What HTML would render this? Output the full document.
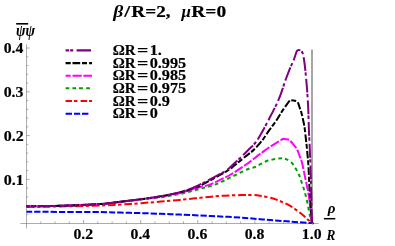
<!DOCTYPE html>
<html><head><meta charset="utf-8"><title>plot</title>
<style>
html,body{margin:0;padding:0;background:#fff;}
body{width:395px;height:246px;overflow:hidden;font-family:"Liberation Serif",serif;}
svg{display:block;will-change:transform;}
text{font-family:"Liberation Serif",serif;font-weight:bold;fill:#000;white-space:pre;stroke:#000;stroke-width:0.2px;}
.lg{font-size:14.5px;}
.tk{font-size:15px;}
.ti{font-size:16px;}
.it{font-style:italic;}
.yl{font-size:18px;font-style:italic;}
.xl{font-size:14px;font-style:italic;}
</style></head><body>
<svg width="395" height="246" viewBox="0 0 395 246">
<g stroke="#666" stroke-width="0.55" fill="none">
<path d="M20.3 223.5 H318.6"/>
<path d="M26.5 228.4 V44.3"/>
<path d="M40.73 223.5 v-2.0"/>
<path d="M55.00 223.5 v-2.0"/>
<path d="M69.28 223.5 v-2.0"/>
<path d="M83.56 223.5 v-3.5"/>
<path d="M97.84 223.5 v-2.0"/>
<path d="M112.12 223.5 v-2.0"/>
<path d="M126.39 223.5 v-2.0"/>
<path d="M140.67 223.5 v-3.5"/>
<path d="M154.95 223.5 v-2.0"/>
<path d="M169.22 223.5 v-2.0"/>
<path d="M183.50 223.5 v-2.0"/>
<path d="M197.78 223.5 v-3.5"/>
<path d="M212.06 223.5 v-2.0"/>
<path d="M226.34 223.5 v-2.0"/>
<path d="M240.61 223.5 v-2.0"/>
<path d="M254.89 223.5 v-3.5"/>
<path d="M269.17 223.5 v-2.0"/>
<path d="M283.44 223.5 v-2.0"/>
<path d="M297.72 223.5 v-2.0"/>
<path d="M312.00 223.5 v-3.5"/>
<path d="M26.5 214.44 h1.7"/>
<path d="M26.5 205.68 h1.7"/>
<path d="M26.5 196.92 h1.7"/>
<path d="M26.5 188.16 h1.7"/>
<path d="M26.5 179.40 h3.2"/>
<path d="M26.5 170.64 h1.7"/>
<path d="M26.5 161.88 h1.7"/>
<path d="M26.5 153.12 h1.7"/>
<path d="M26.5 144.36 h1.7"/>
<path d="M26.5 135.60 h3.2"/>
<path d="M26.5 126.84 h1.7"/>
<path d="M26.5 118.08 h1.7"/>
<path d="M26.5 109.32 h1.7"/>
<path d="M26.5 100.56 h1.7"/>
<path d="M26.5 91.80 h3.2"/>
<path d="M26.5 83.04 h1.7"/>
<path d="M26.5 74.28 h1.7"/>
<path d="M26.5 65.52 h1.7"/>
<path d="M26.5 56.76 h1.7"/>
<path d="M26.5 48.00 h3.2"/>
</g>
<path d="M312.0 49.5 V223.2" stroke="#808080" stroke-width="1.4" fill="none"/>
<path d="M26.5 211.7 C37.7 211.8 47.8 211.8 60.0 211.9 C72.2 212.0 90.0 212.0 100.0 212.1 C110.0 212.2 113.5 212.4 120.3 212.6 C127.1 212.8 133.8 212.9 140.6 213.1 C147.3 213.3 154.2 213.6 160.8 213.8 C167.4 214.0 173.4 214.3 180.0 214.6 C186.6 214.8 193.5 215.2 200.3 215.5 C207.1 215.8 213.8 216.2 220.6 216.5 C227.3 216.8 235.9 217.3 240.8 217.6 C245.7 217.9 246.8 218.0 250.0 218.3 C253.2 218.6 256.6 218.9 260.0 219.2 C263.4 219.5 265.2 219.6 270.3 220.0 C275.4 220.4 283.8 221.1 290.6 221.6 C297.4 222.1 307.6 222.8 311.2 223.1 C314.8 223.4 311.7 223.2 311.9 223.2" stroke="#0000ff" stroke-width="2.0" stroke-dasharray="6.35 1.97" stroke-dashoffset="0.7" fill="none" stroke-linejoin="round"/>
<path d="M26.5 206.9 C37.7 206.8 47.8 206.7 60.0 206.5 C72.2 206.3 90.0 205.8 100.0 205.5 C110.0 205.2 113.5 205.0 120.3 204.6 C127.1 204.2 133.8 203.7 140.6 203.2 C147.3 202.7 154.2 202.1 160.8 201.6 C167.4 201.1 173.4 200.5 180.0 199.9 C186.6 199.3 193.5 198.5 200.3 197.8 C207.1 197.1 213.8 196.4 220.6 195.9 C227.3 195.4 235.4 195.2 240.8 195.1 C246.2 194.9 249.8 194.9 253.0 195.0 C256.2 195.1 257.2 195.2 260.1 195.7 C263.0 196.2 266.9 196.9 270.3 197.8 C273.7 198.7 277.0 199.8 280.4 201.2 C283.8 202.6 287.2 204.2 290.6 206.2 C294.0 208.2 297.8 211.1 300.7 213.3 C303.6 215.5 305.9 217.8 307.8 219.5 C309.7 221.2 310.5 222.0 311.9 223.2" stroke="#ff0000" stroke-width="2.0" stroke-dasharray="7.8 2.4 3.3 2.8" stroke-dashoffset="0" fill="none" stroke-linejoin="round"/>
<path d="M26.5 206.3 C37.9 206.2 48.4 206.1 60.6 205.8 C72.8 205.4 90.0 204.7 100.0 204.1 C110.0 203.4 113.5 202.6 120.3 201.8 C127.1 201.1 133.8 200.1 140.6 199.3 C147.3 198.5 154.2 198.1 160.8 197.2 C167.4 196.3 173.4 195.4 180.0 194.0 C186.6 192.6 195.2 190.0 200.3 188.7 C205.4 187.4 207.0 187.2 210.4 186.1 C213.8 185.0 217.2 183.8 220.6 182.3 C224.0 180.8 226.3 179.4 230.7 177.3 C235.1 175.2 243.3 171.1 246.9 169.5 C250.5 167.9 250.6 168.2 252.0 167.8 C253.4 167.4 253.8 167.6 255.2 167.0 C256.6 166.4 258.3 165.3 260.1 164.4 C261.9 163.5 264.2 162.1 266.2 161.3 C268.2 160.5 270.2 160.1 272.3 159.6 C274.4 159.1 277.2 158.7 279.0 158.5 C280.8 158.3 281.8 158.3 283.0 158.4 C284.2 158.5 284.6 158.5 286.0 159.1 C287.4 159.7 289.6 160.7 291.2 162.2 C292.8 163.7 294.2 166.2 295.5 168.3 C296.8 170.4 298.2 173.1 299.1 175.0 C300.0 176.9 299.9 177.0 300.7 179.5 C301.5 182.0 303.1 186.3 304.2 190.1 C305.3 193.9 306.4 198.2 307.3 202.3 C308.2 206.4 308.9 211.0 309.7 214.5 C310.5 218.0 311.2 220.3 311.9 223.2" stroke="#00a000" stroke-width="2.0" stroke-dasharray="3.7 3.2" stroke-dashoffset="3.0" fill="none" stroke-linejoin="round"/>
<path d="M26.5 206.3 C37.9 206.2 48.4 206.1 60.6 205.8 C72.8 205.4 90.0 204.7 100.0 204.1 C110.0 203.4 113.5 202.6 120.3 201.8 C127.1 201.1 133.8 200.2 140.6 199.3 C147.3 198.4 154.2 197.6 160.8 196.5 C167.4 195.4 173.4 194.6 180.0 193.0 C186.6 191.4 195.2 188.4 200.3 187.0 C205.4 185.6 205.3 186.5 210.4 184.4 C215.5 182.3 224.6 177.9 230.7 174.5 C236.8 171.1 243.7 166.1 246.9 164.0 C250.1 161.9 247.8 163.5 250.0 161.8 C252.2 160.1 258.0 155.5 260.1 153.9 C262.2 152.3 260.9 153.3 262.6 152.1 C264.3 150.9 267.5 148.5 270.3 146.7 C273.1 144.8 277.2 142.3 279.4 141.0 C281.6 139.7 282.0 139.5 283.3 138.7 C284.9 139.0 286.6 139.3 288.2 139.6 C289.0 140.1 289.3 139.7 290.7 141.2 C292.1 142.7 294.8 146.1 296.8 148.5 C297.8 151.1 298.9 153.9 299.8 156.4 C300.7 158.9 301.3 159.9 302.2 163.5 C303.1 167.1 304.2 172.9 305.2 177.7 C306.2 182.5 307.4 187.8 308.2 192.2 C309.0 196.6 309.3 199.9 309.9 204.3 C310.4 208.7 311.2 215.3 311.5 218.5 C311.8 221.7 311.8 221.6 311.9 223.2" stroke="#ff00ff" stroke-width="2.0" stroke-dasharray="9.3 1.8" stroke-dashoffset="8.7" fill="none" stroke-linejoin="round"/>
<path d="M26.5 206.3 C37.9 206.2 48.4 206.1 60.6 205.8 C72.8 205.4 90.0 204.7 100.0 204.1 C110.0 203.4 113.5 202.6 120.3 201.8 C127.1 201.1 133.8 200.2 140.6 199.3 C147.3 198.4 154.2 197.5 160.8 196.3 C167.4 195.2 175.1 193.6 180.0 192.4 C184.9 191.2 186.7 190.5 190.1 189.4 C193.5 188.3 195.9 187.7 200.3 185.6 C204.7 183.5 212.2 179.2 216.5 176.9 C220.8 174.6 223.6 173.0 226.0 171.6 C228.4 170.2 229.2 169.7 230.7 168.6 C232.2 167.5 232.3 167.1 235.0 164.9 C237.7 162.7 243.7 158.0 246.9 155.4 C250.1 152.8 251.6 152.0 254.1 149.5 C256.6 147.0 259.7 143.6 262.2 140.4 C264.7 137.2 266.9 133.6 269.3 130.2 C271.7 126.8 274.5 123.3 276.7 120.0 C278.9 116.7 280.3 113.9 282.5 110.6 C284.7 107.3 287.6 103.5 290.1 100.0 C292.3 100.3 294.6 100.7 296.8 101.0 C297.3 101.8 297.9 102.5 298.3 103.5 C298.8 104.5 298.9 105.4 299.5 107.1 C300.1 108.8 301.0 111.2 301.6 113.4 C302.2 115.6 302.7 118.1 303.1 120.0 C303.5 121.9 303.8 122.9 304.1 124.6 C304.4 126.3 304.5 126.4 304.9 130.0 C305.3 133.6 306.1 140.8 306.7 146.2 C307.2 151.6 307.8 156.9 308.2 162.5 C308.6 168.1 308.8 173.8 309.1 180.0 C309.4 186.2 309.7 192.8 310.2 200.0 C310.7 207.2 311.3 215.5 311.9 223.2" stroke="#000000" stroke-width="2.0" stroke-dasharray="7.7 1.8 5.0 2.1" stroke-dashoffset="4.9" fill="none" stroke-linejoin="round"/>
<path d="M26.5 206.3 C37.9 206.2 48.4 206.1 60.6 205.8 C72.8 205.4 90.0 204.7 100.0 204.1 C110.0 203.4 113.5 202.6 120.3 201.8 C127.1 201.1 133.8 200.2 140.6 199.3 C147.3 198.4 154.2 197.4 160.8 196.2 C167.4 195.0 175.1 193.3 180.0 192.1 C184.9 190.9 186.7 190.2 190.1 188.9 C193.5 187.6 196.9 186.0 200.3 184.4 C203.7 182.8 206.8 181.1 210.4 179.2 C214.0 177.3 219.3 174.4 222.0 172.9 C224.7 171.4 225.2 171.5 226.7 170.4 C228.2 169.3 228.7 168.6 231.0 166.4 C233.3 164.2 237.6 160.4 240.8 157.4 C244.0 154.4 247.4 150.9 250.0 148.3 C252.6 145.7 253.9 144.9 256.1 141.8 C258.3 138.8 260.8 134.2 263.2 130.0 C265.6 125.8 268.2 120.6 270.3 116.5 C272.4 112.4 274.3 109.0 276.0 105.4 C277.7 101.9 279.0 98.9 280.4 95.2 C281.8 91.5 283.6 85.8 284.5 83.0 C285.4 80.2 285.2 80.9 286.1 78.5 C287.0 76.1 288.8 71.4 290.0 68.4 C291.2 65.4 292.6 62.7 293.6 60.3 C294.6 57.9 295.2 55.4 295.8 53.8 C296.4 52.2 296.6 51.5 297.0 50.9 C297.4 50.2 297.8 49.9 298.4 49.9 C299.0 49.9 299.7 50.0 300.4 50.6 C301.1 51.2 302.1 51.4 302.8 53.5 C303.5 55.6 304.0 59.4 304.5 63.0 C305.0 66.6 305.4 70.9 305.8 75.0 C306.2 79.1 306.6 84.0 306.9 87.5 C307.2 91.0 307.3 92.2 307.5 96.0 C307.7 99.8 308.1 104.3 308.3 110.0 C308.5 115.7 308.6 122.7 308.9 130.0 C309.2 137.3 309.7 145.7 310.0 154.0 C310.3 162.3 310.6 168.5 310.9 180.0 C311.2 191.5 311.6 208.8 311.9 223.2" stroke="#800080" stroke-width="2.0" stroke-dasharray="13.9 1.4 3.3 3.1" stroke-dashoffset="10.2" fill="none" stroke-linejoin="round"/>
<path d="M65.6 50.4H69.1 M70.1 50.4H73.2 M76.6 50.4H91.0" stroke="#800080" stroke-width="2.1" fill="none"/>
<path d="M65.6 63.1H70.7 M72.5 63.1H80.2 M82.0 63.1H87.0 M89.1 63.1H92.0" stroke="#000000" stroke-width="2.1" fill="none"/>
<path d="M65.6 75.8H70.7 M72.5 75.8H81.8 M83.4 75.8H92.0" stroke="#ff00ff" stroke-width="2.1" fill="none"/>
<path d="M65.6 88.3H69.3 M72.4 88.3H76.1 M79.0 88.3H82.9 M86.2 88.3H89.9" stroke="#00a000" stroke-width="2.1" fill="none"/>
<path d="M65.6 101.0H72.0 M74.0 101.0H77.4 M80.6 101.0H87.1 M89.1 101.0H92.0" stroke="#ff0000" stroke-width="2.1" fill="none"/>
<path d="M65.6 113.8H72.0 M74.0 113.8H80.2 M82.0 113.8H88.4" stroke="#0000ff" stroke-width="2.1" fill="none"/>
<g opacity="0.999">
<text x="112.82" y="54.8" font-size="14.5" textLength="22.95" lengthAdjust="spacingAndGlyphs">ΩR</text>
<text x="136.91" y="54.8" font-size="14.5" textLength="11.28" lengthAdjust="spacingAndGlyphs">=</text>
<text x="149.68" y="54.8" font-size="14.5" textLength="12.17" lengthAdjust="spacingAndGlyphs">1.</text>
<text x="112.82" y="67.5" font-size="14.5" textLength="22.95" lengthAdjust="spacingAndGlyphs">ΩR</text>
<text x="136.91" y="67.5" font-size="14.5" textLength="11.28" lengthAdjust="spacingAndGlyphs">=</text>
<text x="149.68" y="67.5" font-size="14.5" textLength="36.51" lengthAdjust="spacingAndGlyphs">0.995</text>
<text x="112.82" y="80.2" font-size="14.5" textLength="22.95" lengthAdjust="spacingAndGlyphs">ΩR</text>
<text x="136.91" y="80.2" font-size="14.5" textLength="11.28" lengthAdjust="spacingAndGlyphs">=</text>
<text x="149.68" y="80.2" font-size="14.5" textLength="36.51" lengthAdjust="spacingAndGlyphs">0.985</text>
<text x="112.82" y="93.0" font-size="14.5" textLength="22.95" lengthAdjust="spacingAndGlyphs">ΩR</text>
<text x="136.91" y="93.0" font-size="14.5" textLength="11.28" lengthAdjust="spacingAndGlyphs">=</text>
<text x="149.68" y="93.0" font-size="14.5" textLength="36.51" lengthAdjust="spacingAndGlyphs">0.975</text>
<text x="112.82" y="105.7" font-size="14.5" textLength="22.95" lengthAdjust="spacingAndGlyphs">ΩR</text>
<text x="136.91" y="105.7" font-size="14.5" textLength="11.28" lengthAdjust="spacingAndGlyphs">=</text>
<text x="149.68" y="105.7" font-size="14.5" textLength="20.28" lengthAdjust="spacingAndGlyphs">0.9</text>
<text x="112.82" y="118.4" font-size="14.5" textLength="22.95" lengthAdjust="spacingAndGlyphs">ΩR</text>
<text x="136.91" y="118.4" font-size="14.5" textLength="11.28" lengthAdjust="spacingAndGlyphs">=</text>
<text x="149.68" y="118.4" font-size="14.5" textLength="8.11" lengthAdjust="spacingAndGlyphs">0</text>
<text x="73.41" y="238.7" font-size="15.6" textLength="19.69" lengthAdjust="spacingAndGlyphs">0.2</text>
<text x="130.52" y="238.7" font-size="15.6" textLength="19.69" lengthAdjust="spacingAndGlyphs">0.4</text>
<text x="187.63" y="238.7" font-size="15.6" textLength="19.69" lengthAdjust="spacingAndGlyphs">0.6</text>
<text x="244.74" y="238.7" font-size="15.6" textLength="19.69" lengthAdjust="spacingAndGlyphs">0.8</text>
<text x="301.85" y="238.7" font-size="15.6" textLength="19.69" lengthAdjust="spacingAndGlyphs">1.0</text>
<text x="3.69" y="184.8" font-size="15.6" textLength="20.15" lengthAdjust="spacingAndGlyphs">0.1</text>
<text x="3.69" y="141.0" font-size="15.6" textLength="20.00" lengthAdjust="spacingAndGlyphs">0.2</text>
<text x="3.70" y="97.2" font-size="15.6" textLength="19.85" lengthAdjust="spacingAndGlyphs">0.3</text>
<text x="3.70" y="53.4" font-size="15.6" textLength="19.59" lengthAdjust="spacingAndGlyphs">0.4</text>
<text x="113.30" y="17.0" font-size="16.5" font-style="italic" style="stroke:none" textLength="10.01" lengthAdjust="spacingAndGlyphs">β</text>
<text x="124.31" y="17.0" font-size="16.5" textLength="5.97" lengthAdjust="spacingAndGlyphs">/</text>
<text x="131.37" y="17.0" font-size="16.5" textLength="39.16" lengthAdjust="spacingAndGlyphs">R=2,</text>
<text x="181.62" y="17.0" font-size="16.5" font-style="italic" style="stroke:none" textLength="9.43" lengthAdjust="spacingAndGlyphs">μ</text>
<text x="191.37" y="17.0" font-size="16.5" textLength="34.77" lengthAdjust="spacingAndGlyphs">R=0</text>
<text x="16.12" y="36.2" font-size="16" font-style="italic" style="stroke:none" textLength="18.99" lengthAdjust="spacingAndGlyphs">ψψ</text>
<path d="M16.2 23.8 H28.2" stroke="#000" stroke-width="1.6"/>
<text x="327.77" y="213.4" font-size="14.8" font-style="italic" style="stroke:none" textLength="7.74" lengthAdjust="spacingAndGlyphs">ρ</text>
<path d="M323.9 218.7 H335.3" stroke="#000" stroke-width="1.5"/>
<text x="326.62" y="240.4" font-size="14" font-style="italic" style="stroke:none" textLength="8.89" lengthAdjust="spacingAndGlyphs">R</text>
</g>
</svg>
</body></html>
